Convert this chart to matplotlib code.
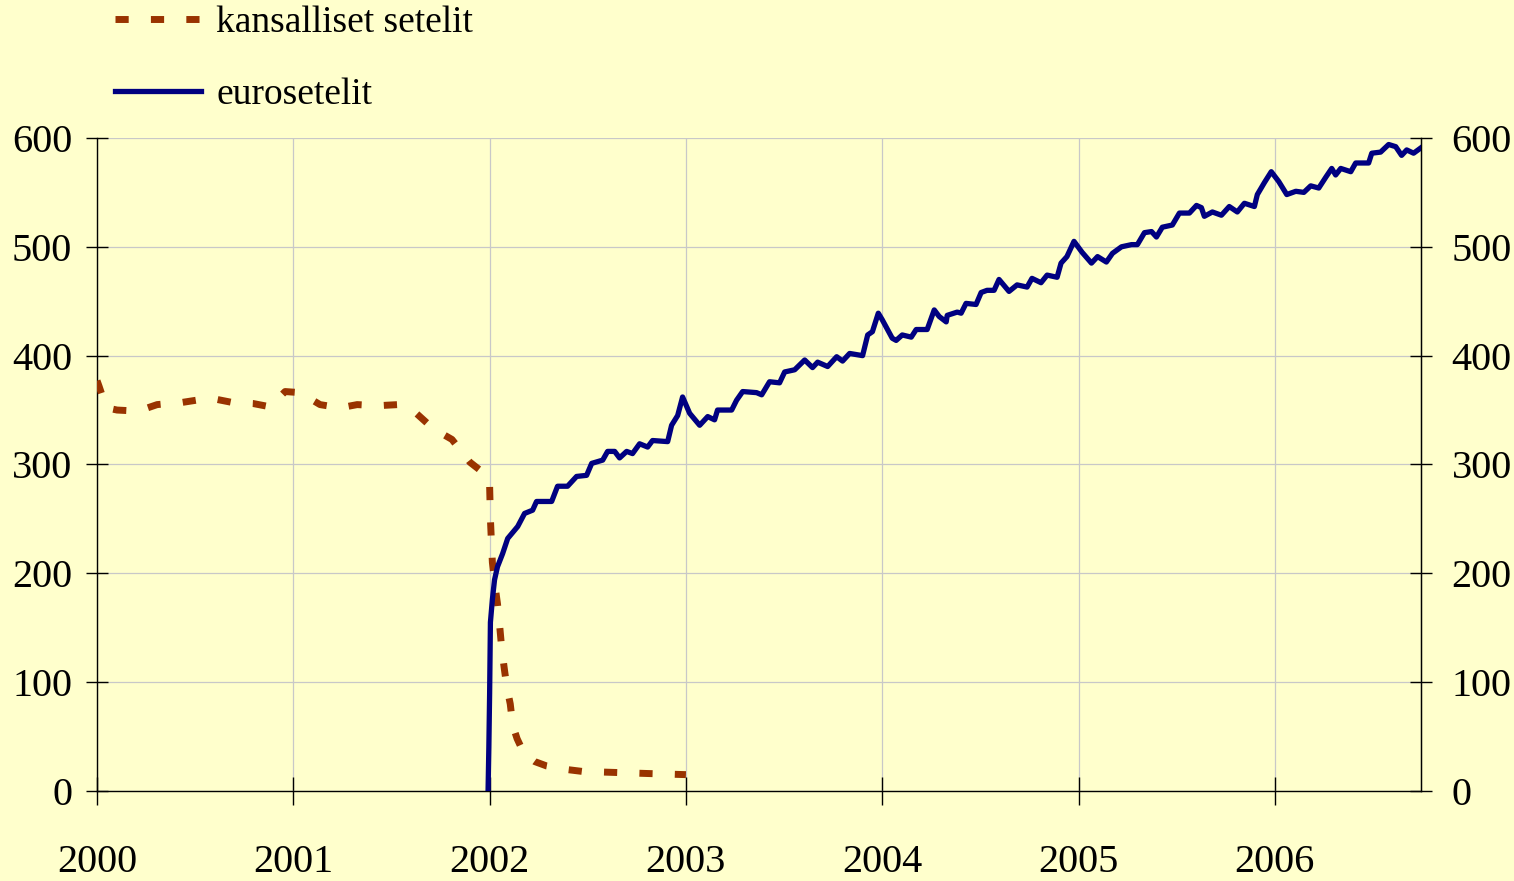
import matplotlib as mpl
import matplotlib.pyplot as plt

# x positions are decimal years, values in millions of euros
years = [2000, 2001, 2002, 2003, 2004, 2005, 2006]
y_ticks = [0, 100, 200, 300, 400, 500, 600]

# kansalliset setelit
nat_t = [2000.000, 2000.010, 2000.025, 2000.050, 2000.102, 2000.209, 2000.306, 2000.433,
         2000.576, 2000.688, 2000.795, 2000.881, 2000.958, 2001.034, 2001.136, 2001.238,
         2001.325, 2001.431, 2001.533, 2001.620, 2001.712, 2001.808, 2001.900, 2001.992,
         2002.000, 2002.004, 2002.010, 2002.014, 2002.030, 2002.040, 2002.052, 2002.062,
         2002.075, 2002.088, 2002.105, 2002.118, 2002.140, 2002.176, 2002.230, 2002.290,
         2002.380, 2002.470, 2002.640, 2002.810, 2003.000]
nat_v = [377, 372, 364, 352, 350, 349, 355, 357,
         361, 357, 356, 353, 367, 366, 355, 352,
         355, 354, 355, 348, 333, 323, 302, 289,
         280, 250, 225, 210, 185, 172, 150, 130,
         112, 95, 80, 60, 48, 34, 27, 23,
         20, 18, 17, 16, 15]

# eurosetelit
euro_t = [2001.992, 2001.996, 2002.000, 2002.004, 2002.014, 2002.025, 2002.040, 2002.066,
          2002.092, 2002.143, 2002.178, 2002.219, 2002.239, 2002.316, 2002.346, 2002.397,
          2002.443, 2002.494, 2002.520, 2002.576, 2002.601, 2002.637, 2002.662, 2002.698,
          2002.728, 2002.764, 2002.805, 2002.830, 2002.907, 2002.927, 2002.958, 2002.983,
          2003.019, 2003.070, 2003.111, 2003.146, 2003.161, 2003.233, 2003.258, 2003.289,
          2003.360, 2003.386, 2003.426, 2003.477, 2003.503, 2003.554, 2003.605, 2003.645,
          2003.671, 2003.722, 2003.768, 2003.798, 2003.834, 2003.900, 2003.926, 2003.950,
          2003.980, 2004.000, 2004.051, 2004.071, 2004.102, 2004.148, 2004.173, 2004.229,
          2004.265, 2004.290, 2004.326, 2004.331, 2004.382, 2004.402, 2004.427, 2004.478,
          2004.504, 2004.534, 2004.570, 2004.595, 2004.646, 2004.687, 2004.738, 2004.763,
          2004.809, 2004.840, 2004.891, 2004.911, 2004.941, 2004.977, 2005.018, 2005.066,
          2005.097, 2005.142, 2005.173, 2005.219, 2005.270, 2005.300, 2005.336, 2005.372,
          2005.397, 2005.427, 2005.478, 2005.514, 2005.565, 2005.601, 2005.626, 2005.641,
          2005.682, 2005.728, 2005.768, 2005.809, 2005.845, 2005.896, 2005.911, 2005.947,
          2005.982, 2006.020, 2006.061, 2006.107, 2006.148, 2006.183, 2006.224, 2006.260,
          2006.290, 2006.310, 2006.336, 2006.387, 2006.412, 2006.478, 2006.494, 2006.539,
          2006.580, 2006.616, 2006.646, 2006.672, 2006.707, 2006.745]
euro_v = [0, 40, 90, 155, 176, 194, 206, 218,
          232, 243, 255, 258, 266, 266, 280, 280,
          289, 290, 301, 304, 312, 312, 306, 312,
          310, 319, 316, 322, 321, 336, 345, 362,
          347, 336, 344, 341, 350, 350, 359, 367,
          366, 364, 376, 375, 385, 387, 396, 389,
          394, 390, 399, 395, 402, 400, 419, 422,
          439, 433, 416, 414, 419, 417, 424, 424,
          442, 436, 431, 437, 440, 439, 448, 447,
          458, 460, 460, 470, 459, 465, 463, 471,
          467, 474, 472, 485, 491, 505, 495, 485,
          491, 486, 494, 500, 502, 502, 513, 514,
          509, 518, 520, 531, 531, 538, 536, 528,
          532, 529, 537, 532, 540, 537, 548, 559,
          569, 560, 548, 551, 550, 556, 554, 564,
          572, 566, 572, 569, 577, 577, 586, 587,
          594, 592, 584, 589, 586, 591]

bg = '#FFFFCC'
mpl.rcParams['font.family'] = ['Liberation Serif', 'DejaVu Serif']
mpl.rcParams['font.size'] = 29

fig = plt.figure(figsize=(15.14, 8.81), dpi=100, facecolor=bg)
ax = fig.add_axes([0.0641, 0.1022, 0.8745, 0.7412])
ax.set_facecolor(bg)

ax.plot(nat_t, nat_v, color='#993300', lw=5, dashes=(1.9, 3.2),
        dash_capstyle='butt', label='kansalliset setelit', zorder=3)
ax.plot(euro_t, euro_v, color='#000080', lw=3.8, solid_joinstyle='round',
        label='eurosetelit', zorder=4)

ax.set_xlim(2000, 2006.745)
ax.set_ylim(0, 600)
ax.set_xticks(years)
ax.set_xticklabels([str(y) for y in years])
ax.set_yticks(y_ticks)
ax.grid(True, color='#C8C8C8', lw=0.9)
ax.set_axisbelow(True)

ax.spines['top'].set_visible(False)
for side in ['left', 'right', 'bottom']:
    ax.spines[side].set_color('black')
    ax.spines[side].set_linewidth(1)

ax.tick_params(axis='x', direction='inout', length=20, width=1, pad=28)
ax.tick_params(axis='y', direction='inout', length=16, width=1, pad=10)

# right hand axis repeats the scale
ax2 = ax.twinx()
ax2.set_ylim(ax.get_ylim())
ax2.set_yticks(y_ticks)
ax2.tick_params(axis='y', direction='inout', length=16, width=1, pad=14)
for side in ['top', 'left', 'bottom']:
    ax2.spines[side].set_visible(False)

fig.legend(*ax.get_legend_handles_labels(), loc='upper left',
           bbox_to_anchor=(0.076, 0.994), frameon=False, fontsize=27,
           handlelength=2.3, handletextpad=0.4, labelspacing=1.0,
           borderpad=0.0, borderaxespad=0.0)

plt.savefig('out.png', dpi=100, facecolor=bg)
